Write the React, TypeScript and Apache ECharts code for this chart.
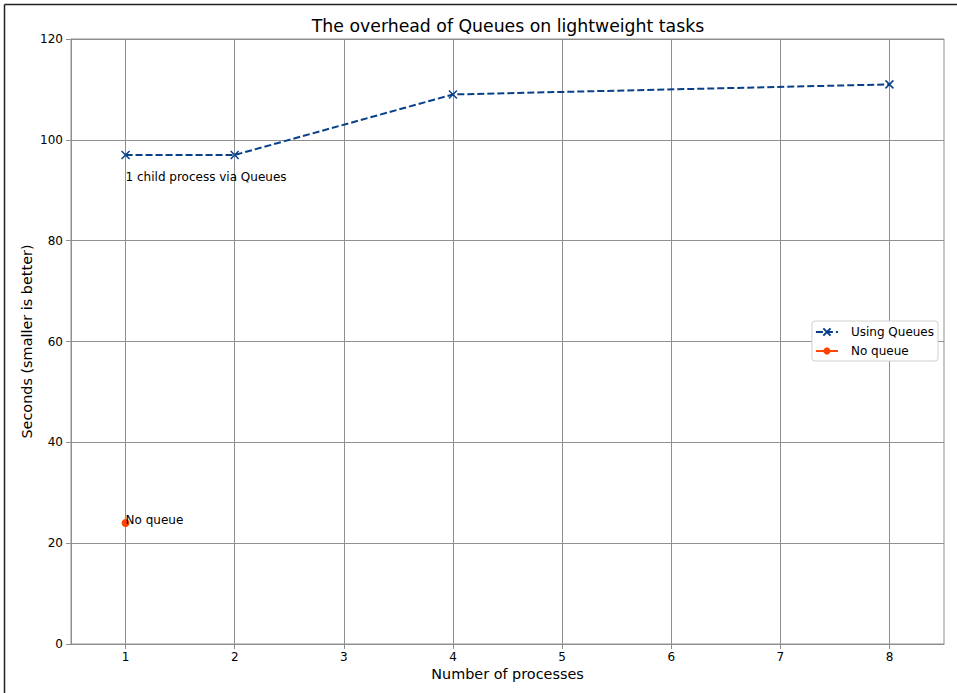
import React, { useEffect, useRef } from "react";
import * as echarts from "echarts";

const titleText = "The overhead of Queues on lightweight tasks";
const xAxisName = "Number of processes";
const yAxisName = "Seconds (smaller is better)";

const xTickValues = [1, 2, 3, 4, 5, 6, 7, 8];
const yTickValues = [0, 20, 40, 60, 80, 100, 120];

const queueProcesses = [1, 2, 4, 8];
const queueSeconds = [97, 97, 109, 111];

const noQueueProcesses = [1];
const noQueueSeconds = [24];

const annotationX = [1, 1];
const annotationY = [92, 24];
const annotationText = ["1 child process via Queues", "No queue"];

const FONT = "DejaVu Sans";
const GREY = "#8f8f8f";

export default function App() {
  const ref = useRef<HTMLDivElement>(null);

  useEffect(() => {
    if (!ref.current) return;
    const chart = echarts.init(ref.current, undefined, { renderer: "svg" });

    const queueData = queueProcesses.map((x, i) => [x, queueSeconds[i]]);
    const noQueueData = noQueueProcesses.map((x, i) => [x, noQueueSeconds[i]]);
    const annoData = annotationX.map((x, i) => ({
      value: [x, annotationY[i]],
      label: { formatter: annotationText[i] },
    }));

    chart.setOption({
      animation: false,
      backgroundColor: "#ffffff",
      textStyle: { fontFamily: FONT },
      title: {
        text: titleText,
        left: 503,
        textAlign: "center",
        top: 12,
        textStyle: { fontFamily: FONT, fontSize: 17.3, fontWeight: "normal", color: "#000" },
      },
      graphic: [
        {
          type: "line",
          shape: { x1: 4.5, y1: 4.5, x2: 960, y2: 4.5 },
          style: { stroke: "#222", lineWidth: 1.5 },
          silent: true,
        },
        {
          type: "line",
          shape: { x1: 4.5, y1: 4.5, x2: 4.5, y2: 700 },
          style: { stroke: "#222", lineWidth: 1.5 },
          silent: true,
        },
      ],
      grid: {
        left: 71,
        top: 39,
        width: 873,
        height: 605,
        show: true,
        borderColor: GREY,
        borderWidth: 1,
        containLabel: false,
      },
      legend: {
        orient: "vertical",
        right: 19,
        top: 321,
        backgroundColor: "#ffffff",
        borderColor: "#d0d0d0",
        borderWidth: 1,
        borderRadius: 3,
        padding: [5, 4, 4, 3],
        itemGap: 7,
        itemWidth: 22,
        itemHeight: 9,
        textStyle: { fontFamily: FONT, fontSize: 12, color: "#000", padding: [0, 0, 0, 8] },
        data: ["Using Queues", "No queue"],
      },
      xAxis: {
        type: "value",
        min: 0.5,
        max: 8.5,
        splitNumber: 8,
        name: xAxisName,
        nameLocation: "middle",
        nameGap: 23,
        nameMoveOverlap: false,
        nameTextStyle: { fontFamily: FONT, fontSize: 14.4, color: "#000" },
        axisLine: { show: true, lineStyle: { color: GREY, width: 1 } },
        axisTick: {
          show: true,
          inside: false,
          length: 5,
          lineStyle: { color: GREY },
          customValues: xTickValues,
        },
        axisLabel: {
          margin: 7,
          fontFamily: FONT,
          fontSize: 12,
          color: "#000",
          customValues: xTickValues,
          formatter: (v: number) => (Number.isInteger(v) ? String(v) : ""),
        },
        splitLine: { show: true, lineStyle: { color: GREY, width: 1 } },
      },
      yAxis: {
        type: "value",
        min: yTickValues[0],
        max: yTickValues[yTickValues.length - 1],
        interval: 20,
        name: yAxisName,
        nameLocation: "middle",
        nameGap: 37,
        nameRotate: 90,
        nameMoveOverlap: false,
        nameTextStyle: { fontFamily: FONT, fontSize: 14.4, color: "#000" },
        axisLine: { show: true, lineStyle: { color: GREY, width: 1 } },
        axisTick: { show: true, inside: false, length: 5, lineStyle: { color: GREY } },
        axisLabel: { margin: 8, fontFamily: FONT, fontSize: 12, color: "#000" },
        splitLine: { show: true, lineStyle: { color: GREY, width: 1 } },
      },
      series: [
        {
          name: "Using Queues",
          type: "line",
          data: queueData,
          symbol: "path://M0,0L10,10M10,0L0,10",
          symbolSize: 8,
          showAllSymbol: true,
          lineStyle: { color: "#073f8a", width: 2, type: [7, 3] },
          itemStyle: { color: "#073f8a", borderColor: "#073f8a", borderWidth: 1.5 },
          z: 3,
        },
        {
          name: "No queue",
          type: "line",
          data: noQueueData,
          symbol: "circle",
          symbolSize: 8,
          lineStyle: { color: "#ff4500", width: 2 },
          itemStyle: { color: "#ff4500" },
          z: 3,
        },
        {
          name: "annotations",
          type: "scatter",
          data: annoData,
          symbolSize: 0,
          silent: true,
          z: 4,
          label: {
            show: true,
            position: [0, 3],
            align: "left",
            verticalAlign: "bottom",
            fontFamily: FONT,
            fontSize: 12,
            color: "#000",
            opacity: 1,
          },
        },
      ],
    });

    return () => chart.dispose();
  }, []);

  return (
    <div
      ref={ref}
      style={{ position: "fixed", left: 0, top: 0, width: 957, height: 693, background: "#fff" }}
    />
  );
}
